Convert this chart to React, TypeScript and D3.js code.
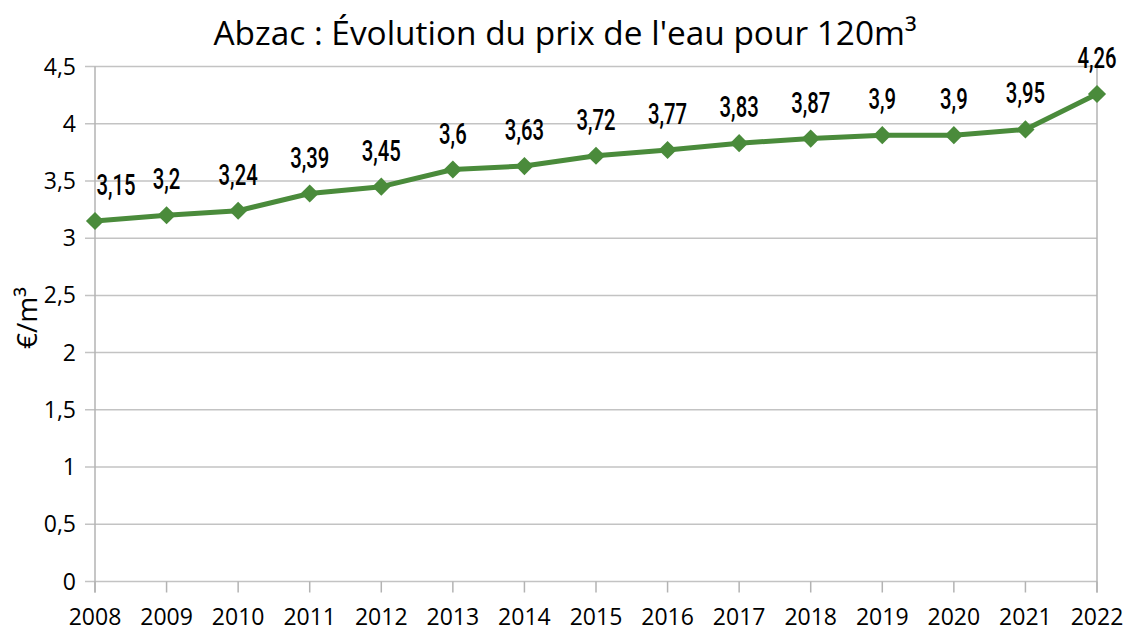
import React from "react";
import * as d3 from "d3";

const years = ["2008","2009","2010","2011","2012","2013","2014","2015","2016","2017","2018","2019","2020","2021","2022"];
const prices = [3.15, 3.2, 3.24, 3.39, 3.45, 3.6, 3.63, 3.72, 3.77, 3.83, 3.87, 3.9, 3.9, 3.95, 4.26];
const yTicks = [0, 0.5, 1, 1.5, 2, 2.5, 3, 3.5, 4, 4.5];
const title = "Abzac : Évolution du prix de l'eau pour 120m³";
const yLabel = "€/m³";

const W = 1128, H = 629;
const left = 95, right = 1097, top = 66.5, bottom = 581.5;
const green = "#4a8b3b";
const fmt = (v: number) => String(v).replace(".", ",");

export default function App() {
  const x = d3.scalePoint<string>().domain(years).range([left, right]);
  const y = d3.scaleLinear().domain([0, 4.5]).range([bottom, top]);
  const line = d3.line<number>().x((_, i) => x(years[i])!).y(d => y(d));
  const diamond = d3.symbol().type(d3.symbolDiamond2).size(210)();
  return (
    <svg width={W} height={H} style={{ position: "absolute", left: 0, top: 0, background: "#fff" }}>
      <text x={565} y={45} textAnchor="middle" fontFamily="Open Sans" fontSize={33.4} fill="#000">{title}</text>
      {yTicks.map(t => (
        <g key={t}>
          <line x1={left - 10} x2={right} y1={y(t)} y2={y(t)} stroke="#c3c3c3" strokeWidth={1.5} />
          <text x={76} y={y(t) + 8} textAnchor="end" fontFamily="Open Sans" fontSize={23} fill="#000">{fmt(t)}</text>
        </g>
      ))}
      <line x1={left} x2={left} y1={top} y2={bottom + 11} stroke="#b3b3b3" strokeWidth={1.5} />
      <line x1={right} x2={right} y1={top} y2={bottom + 11} stroke="#b3b3b3" strokeWidth={1.5} />
      {years.map(yr => (
        <g key={yr}>
          <line x1={x(yr)} x2={x(yr)} y1={bottom} y2={bottom + 11} stroke="#b3b3b3" strokeWidth={1.5} />
          <text x={x(yr)} y={625} textAnchor="middle" fontFamily="Open Sans" fontSize={23} fill="#000">{yr}</text>
        </g>
      ))}
      <text transform={`translate(37,318) rotate(-90)`} textAnchor="middle" fontFamily="Open Sans" fontSize={28} fill="#000">{yLabel}</text>
      <path d={line(prices)!} fill="none" stroke={green} strokeWidth={5} strokeLinejoin="round" />
      {prices.map((p, i) => {
        const px = x(years[i])!;
        const lx = Math.max(px, left + 21);
        return (
          <g key={i}>
            <path d={diamond!} transform={`translate(${px},${y(p)})`} fill={green} />
            <text transform={`translate(${lx},${y(p) - 26}) scale(0.7,1)`} textAnchor="middle" fontFamily="Roboto" fontWeight={500} fontSize={29} fill="#000">{fmt(p)}</text>
          </g>
        );
      })}
    </svg>
  );
}
